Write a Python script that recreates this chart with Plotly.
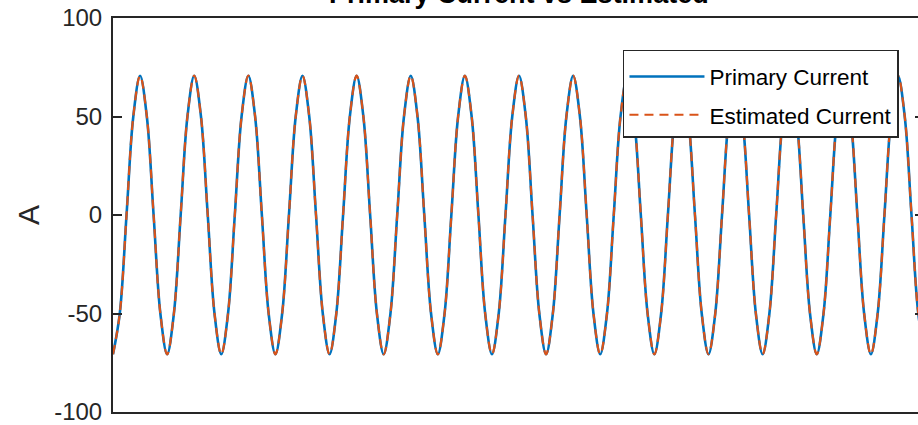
import plotly.graph_objects as go

t_ms = [
    0, 2.5, 5, 7.5, 10, 12.5, 15, 17.5,
    20, 22.5, 25, 27.5, 30, 32.5, 35, 37.5,
    40, 42.5, 45, 47.5, 50, 52.5, 55, 57.5,
    60, 62.5, 65, 67.5, 70, 72.5, 75, 77.5,
    80, 82.5, 85, 87.5, 90, 92.5, 95, 97.5,
    100, 102.5, 105, 107.5, 110, 112.5, 115, 117.5,
    120, 122.5, 125, 127.5, 130, 132.5, 135, 137.5,
    140, 142.5, 145, 147.5, 150, 152.5, 155, 157.5,
    160, 162.5, 165, 167.5, 170, 172.5, 175, 177.5,
    180, 182.5, 185, 187.5, 190, 192.5, 195, 197.5,
    200, 202.5, 205, 207.5, 210, 212.5, 215, 217.5,
    220, 222.5, 225, 227.5, 230, 232.5, 235, 237.5,
    240, 242.5, 245, 247.5, 250, 252.5, 255, 257.5,
    260, 262.5, 265, 267.5, 270, 272.5, 275, 277.5,
    280, 282.5, 285, 287.5, 290, 292.5, 295, 297.5,
    300,
]

primary_current = [
    -70.7, -50.0, 0.0, 50.0, 70.7, 50.0, 0.0, -50.0,
    -70.7, -50.0, 0.0, 50.0, 70.7, 50.0, 0.0, -50.0,
    -70.7, -50.0, 0.0, 50.0, 70.7, 50.0, 0.0, -50.0,
    -70.7, -50.0, 0.0, 50.0, 70.7, 50.0, 0.0, -50.0,
    -70.7, -50.0, 0.0, 50.0, 70.7, 50.0, 0.0, -50.0,
    -70.7, -50.0, 0.0, 50.0, 70.7, 50.0, 0.0, -50.0,
    -70.7, -50.0, 0.0, 50.0, 70.7, 50.0, 0.0, -50.0,
    -70.7, -50.0, 0.0, 50.0, 70.7, 50.0, 0.0, -50.0,
    -70.7, -50.0, 0.0, 50.0, 70.7, 50.0, 0.0, -50.0,
    -70.7, -50.0, 0.0, 50.0, 70.7, 50.0, 0.0, -50.0,
    -70.7, -50.0, 0.0, 50.0, 70.7, 50.0, 0.0, -50.0,
    -70.7, -50.0, 0.0, 50.0, 70.7, 50.0, 0.0, -50.0,
    -70.7, -50.0, 0.0, 50.0, 70.7, 50.0, 0.0, -50.0,
    -70.7, -50.0, 0.0, 50.0, 70.7, 50.0, 0.0, -50.0,
    -70.7, -50.0, 0.0, 50.0, 70.7, 50.0, 0.0, -50.0,
    -70.7,
]

estimated_current = [
    -70.7, -50.0, 0.0, 50.0, 70.7, 50.0, 0.0, -50.0,
    -70.7, -50.0, 0.0, 50.0, 70.7, 50.0, 0.0, -50.0,
    -70.7, -50.0, 0.0, 50.0, 70.7, 50.0, 0.0, -50.0,
    -70.7, -50.0, 0.0, 50.0, 70.7, 50.0, 0.0, -50.0,
    -70.7, -50.0, 0.0, 50.0, 70.7, 50.0, 0.0, -50.0,
    -70.7, -50.0, 0.0, 50.0, 70.7, 50.0, 0.0, -50.0,
    -70.7, -50.0, 0.0, 50.0, 70.7, 50.0, 0.0, -50.0,
    -70.7, -50.0, 0.0, 50.0, 70.7, 50.0, 0.0, -50.0,
    -70.7, -50.0, 0.0, 50.0, 70.7, 50.0, 0.0, -50.0,
    -70.7, -50.0, 0.0, 50.0, 70.7, 50.0, 0.0, -50.0,
    -70.7, -50.0, 0.0, 50.0, 70.7, 50.0, 0.0, -50.0,
    -70.7, -50.0, 0.0, 50.0, 70.7, 50.0, 0.0, -50.0,
    -70.7, -50.0, 0.0, 50.0, 70.7, 50.0, 0.0, -50.0,
    -70.7, -50.0, 0.0, 50.0, 70.7, 50.0, 0.0, -50.0,
    -70.7, -50.0, 0.0, 50.0, 70.7, 50.0, 0.0, -50.0,
    -70.7,
]

y_ticks = [-100, -50, 0, 50, 100]
y_tick_labels = ["-100", "-50", "0", "50", "100"]

title_text = "Primary Current vs Estimated"
y_label = "A"
series_names = ["Primary Current", "Estimated Current"]

FONT = "Liberation Sans, Arial, Helvetica, sans-serif"
AX = "#262626"

fig = go.Figure()
fig.add_trace(go.Scatter(
    x=t_ms, y=primary_current, name=series_names[0], mode="lines",
    legendgroup="a",
    line=dict(color="#0072BD", width=2.6, shape="spline"),
))
fig.add_trace(go.Scatter(
    x=t_ms, y=estimated_current, name=series_names[1], mode="lines",
    legendgroup="b",
    line=dict(color="#D95319", width=2.2, dash="9px,6px", shape="spline"),
    yaxis="y2",
))

fig.update_layout(
    width=918, height=425,
    margin=dict(l=113, r=0, t=18, b=13),
    paper_bgcolor="white", plot_bgcolor="white",
    showlegend=True,
    xaxis=dict(
        range=[0, 297.4], showline=True, mirror=True, linecolor=AX, linewidth=2,
        ticks="", showticklabels=False, showgrid=False, zeroline=False,
    ),
    yaxis=dict(
        range=[-100, 100], tickvals=y_ticks, ticktext=y_tick_labels,
        ticks="inside", ticklen=9, tickwidth=1.5, tickcolor=AX,
        showline=True, linecolor=AX, linewidth=2, mirror=False,
        showgrid=False, zeroline=False, ticklabelstandoff=4,
        ticklabeloverflow="allow",
        tickfont=dict(family=FONT, size=24, color=AX),
    ),
    yaxis2=dict(
        range=[-100, 100], tickvals=y_ticks, overlaying="y", side="right",
        ticks="inside", ticklen=3, tickwidth=1.5, tickcolor=AX,
        showline=False, showgrid=False, zeroline=False, showticklabels=False,
    ),
    legend=dict(
        x=0.6335, y=0.9188, xanchor="left", yanchor="top",
        bgcolor="white", bordercolor=AX, borderwidth=1.5,
        font=dict(family=FONT, size=22.5, color="black"),
        itemwidth=75, tracegroupgap=6,
        title=dict(text=" ", font=dict(family=FONT, size=3)),
    ),
    annotations=[
        dict(text="<b>" + title_text + "</b>", xref="paper", yref="paper",
             x=0.504, y=1.0597, xanchor="center", yanchor="middle",
             showarrow=False, font=dict(family=FONT, size=27, color="black")),
        dict(text=y_label, xref="paper", yref="paper", x=-0.1056, y=0.5,
             xanchor="center", yanchor="middle", textangle=-90, showarrow=False,
             font=dict(family=FONT, size=30, color=AX)),
    ],
)

fig.write_html("out.html")
